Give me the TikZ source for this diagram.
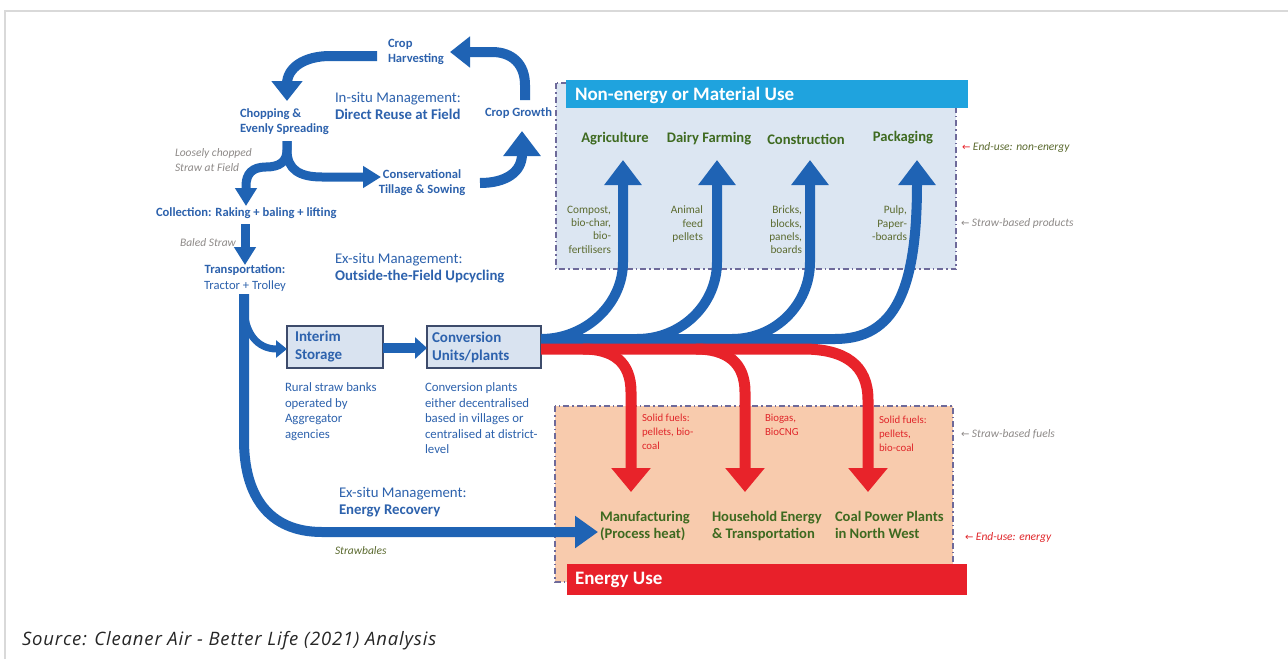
\documentclass[tikz,border=0pt]{standalone}
\usepackage{fontspec}
\setmainfont{Carlito}
\newfontfamily\srcfont{Open Sans}[LetterSpace=4.5]
\newfontfamily\symfont{DejaVu Sans}
\usetikzlibrary{arrows.meta}

\definecolor{flowblue}{HTML}{1F63B4}
\definecolor{flowred}{HTML}{E8232A}
\definecolor{txtblue}{HTML}{2D62AD}
\definecolor{txtgreen}{HTML}{3E6A20}
\definecolor{prodgreen}{HTML}{5C6B30}
\definecolor{notegray}{HTML}{8E8A88}
\definecolor{matfill}{HTML}{DCE6F2}
\definecolor{enfill}{HTML}{F8CBAD}
\definecolor{matbar}{HTML}{1FA3DE}
\definecolor{enbar}{HTML}{E8202A}
\definecolor{dashcol}{HTML}{6E6A9A}
\definecolor{boxedge}{HTML}{3D4B6B}
\definecolor{boxfill}{HTML}{D9E3F0}
\definecolor{framegray}{HTML}{D9D9D9}
\definecolor{fuelred}{HTML}{E0262A}

\newcommand{\fsz}[2]{\fontsize{#1}{#2}\selectfont}

\tikzset{
  every node/.style={inner sep=0pt, outer sep=0pt},
  lbl/.style={text=txtblue, font=\fsz{12.6}{15}\bfseries, align=left},
  mgmt/.style={text=txtblue, font=\fsz{14.8}{17}, align=left},
  note/.style={text=notegray, font=\fsz{11.5}{15}\itshape, align=left},
  desc/.style={text=txtblue, font=\fsz{12.8}{15.5}, align=left},
  enduse/.style={text=txtgreen, font=\fsz{14.6}{17.5}\bfseries, align=left},
  product/.style={text=prodgreen, font=\fsz{11.3}{13.3}, align=right},
  fuel/.style={text=fuelred, font=\fsz{10.8}{14}, align=left},
  banner/.style={text=white, font=\fsz{19}{22}\bfseries},
  sidenote/.style={anchor=west, font=\fsz{11.5}{13}\itshape},
  procbox/.style={draw=boxedge, line width=1.3pt, fill=boxfill, text=txtblue,
    font=\fsz{15}{18}\bfseries, align=left, anchor=north west},
  usearea/.style={draw=dashcol, line width=1.2pt,
    dash pattern=on 6pt off 3pt on 1.5pt off 3pt},
  bluebig/.style={draw=flowblue, line width=10pt, -{Triangle[width=36pt,length=25pt]}},
  bluemid/.style={draw=flowblue, line width=10pt, -{Triangle[width=30pt,length=20pt]}},
  bluesmall/.style={draw=flowblue, line width=9pt, -{Triangle[width=21pt,length=18pt]}},
  redbig/.style={draw=flowred, line width=11pt, -{Triangle[width=38pt,length=24pt]}},
}

\begin{document}
\begin{tikzpicture}[x=1pt,y=-1pt]
\useasboundingbox (0,0) rectangle (1288,659);
\fill[white] (0,0) rectangle (1288,659);

% page frame
\draw[framegray, line width=2pt] (4.5,659) -- (4.5,10.5) -- (1288,10.5);

% use areas
\draw[usearea, fill=matfill] (556,83) rectangle (956,269);
\fill[matbar] (566,80) rectangle (968,108);
\node[banner, anchor=west] (matuse) at (575,95) {Non-energy or Material Use};

\draw[usearea, fill=enfill] (555,406) rectangle (953,582);
\fill[enbar] (567,564) rectangle (967,595);
\node[banner, anchor=west] (enuse) at (575,580) {Energy Use};

% in-situ cycle
\node[lbl, anchor=north west] (harv) at (388,39) {Crop\\Harvesting};
\node[lbl, anchor=north west] (chop) at (240,109) {Chopping \&\\Evenly Spreading};
\node[mgmt, anchor=north west] (insitu) at (335,92) {In-situ Management:\\\textbf{Direct Reuse at Field}};
\node[lbl, anchor=west] (growth) at (485,113) {Crop Growth};
\node[lbl, anchor=center, align=center] (tillage) at (422,183) {Conservational\\Tillage \& Sowing};
\node[note, anchor=north west] (loose) at (175,149) {Loosely chopped\\Straw at Field};

\coordinate (growthtop) at (525,100);
\coordinate (harvin) at (450,52);
\draw[bluemid] (growthtop) -- (525,85) .. controls (525,64) and (512,52) .. (492,52) -- (harvin);

\coordinate (harvout) at (377,56);
\coordinate (chopin) at (287,101);
\draw[bluemid] (harvout) -- (330,56) .. controls (304,56) and (287,68) .. (287,84) -- (chopin);

\coordinate (chopout) at (287,141);
\coordinate (tillin) at (381,177);
\coordinate (collin) at (246,206);
\draw[bluesmall] (chopout) -- (287,150) .. controls (287,170) and (300,177) .. (322,177) -- (tillin);
\draw[bluesmall] (chopout) -- (287,150) .. controls (287,162) and (279,167) .. (266,167)
  .. controls (252,167) and (246,174) .. (246,186) -- (collin);

\coordinate (tillout) at (480,183);
\coordinate (growthin) at (522,131);
\draw[bluebig] (tillout) .. controls (506,183) and (522,172) .. (522,154) -- (growthin);

% ex-situ chain
\node[lbl, anchor=west] (collect) at (156,213) {Collection: Raking + baling + lifting};
\node[note, anchor=west] (baled) at (180,243) {Baled Straw};
\node[lbl, anchor=center, align=center, font=\fsz{12.6}{16}] (transp) at (245,278) {\textbf{Transportation:}\\Tractor + Trolley};
\node[mgmt, anchor=north west] (exsitu) at (335,253) {Ex-situ Management:\\\textbf{Outside-the-Field Upcycling}};

\coordinate (collout) at (245,224);
\coordinate (transpin) at (245,265);
\draw[bluesmall] (collout) -- (transpin);

\node[procbox, minimum width=95pt, minimum height=42pt, text width=80pt, inner xsep=8pt] (interim) at (287,326) {Interim\\Storage};
\node[procbox, minimum width=114pt, minimum height=42pt, text width=104pt, inner xsep=5pt] (conv) at (427,326) {Conversion\\Units/plants};

\node[desc, anchor=north west] (banks) at (285,383) {Rural straw banks\\operated by\\Aggregator\\agencies};
\node[desc, anchor=north west] (plants) at (425,383) {Conversion plants\\either decentralised\\based in villages or\\centralised at district-\\level};

\draw[draw=flowblue, line width=10pt, -{Triangle[width=21pt,length=12pt]}] (interim.east |- 0,348) -- (conv.west |- 0,348);

\coordinate (transpout) at (244,294);
\coordinate (manufin) at (598,532);
\draw[draw=flowblue, line width=7pt, -{Triangle[width=17pt,length=11pt]}] (244,305) .. controls (244,334) and (258,349) .. (interim.west |- 0,349);
\draw[draw=flowblue, line width=10pt, -{Triangle[width=31pt,length=23pt]}] (transpout) -- (244,440) .. controls (244,495) and (268,532) .. (322,532) -- (manufin);

\node[mgmt, anchor=north west] (exsitu2) at (339,487) {Ex-situ Management:\\\textbf{Energy Recovery}};
\node[note, anchor=west, text=prodgreen] (strawbales) at (335,551) {Strawbales};

% non-energy end uses
\node[enduse, anchor=center] (agri) at (615,139) {Agriculture};
\node[enduse, anchor=center] (dairy) at (709,139) {Dairy Farming};
\node[enduse, anchor=center] (constr) at (806,139) {Construction};
\node[enduse, anchor=center] (pack) at (903,138) {Packaging};

\node[product, anchor=north east] (pagri) at (611,206) {Compost,\\bio-char,\\bio-\\fertilisers};
\node[product, anchor=north east] (pdairy) at (703,206) {Animal\\feed\\pellets};
\node[product, anchor=north east] (pconstr) at (802,206) {Bricks,\\blocks,\\panels,\\boards};
\node[product, anchor=north east] (ppack) at (907,206) {Pulp,\\Paper-\\-boards};

\coordinate (convblue) at (541,339);
\coordinate (convred) at (541,349);
\coordinate (agriin) at (623,160);
\coordinate (dairyin) at (717,160);
\coordinate (constrin) at (810,160);
\coordinate (packin) at (917,160);
\draw[bluebig] (convblue) .. controls (586,339) and (623,304) .. (623,262) -- (agriin);
\draw[bluebig] (637,339) .. controls (682,339) and (717,304) .. (717,262) -- (dairyin);
\draw[bluebig] (732,339) .. controls (776,339) and (810,304) .. (810,262) -- (constrin);
\draw[bluebig] (convblue) -- (835,339) .. controls (895,339) and (917,290) .. (packin);

% energy end uses
\node[fuel, anchor=north west] (fuel1) at (642,414) {Solid fuels:\\pellets, bio-\\coal};
\node[fuel, anchor=north west] (fuel2) at (765,414) {Biogas,\\BioCNG};
\node[fuel, anchor=north west] (fuel3) at (879,416) {Solid fuels:\\pellets,\\bio-coal};

\node[enduse, anchor=north west] (manuf) at (600,511) {Manufacturing\\(Process heat)};
\node[enduse, anchor=north west] (house) at (712,511) {Household Energy\\\& Transportation};
\node[enduse, anchor=north west] (coal) at (835,511) {Coal Power Plants\\in North West};

\coordinate (manufred) at (631,492);
\coordinate (housered) at (745,492);
\coordinate (coalred) at (868,492);
\draw[redbig] (convred) -- (803,349) .. controls (845,349) and (868,365) .. (868,400) -- (coalred);
\draw[redbig] (583,349) .. controls (613,349) and (631,362) .. (631,392) -- (manufred);
\draw[redbig] (696,349) .. controls (726,349) and (745,362) .. (745,392) -- (housered);

% side annotations
\node[sidenote, text=prodgreen] (nonen) at (962,147) {{\color{flowred}\symfont\fsz{10}{13}\upshape ←} End-use: non-energy};
\node[sidenote, text=notegray] (sprod) at (961,223) {{\symfont\fsz{10}{13}\upshape ←} Straw-based products};
\node[sidenote, text=notegray] (sfuel) at (961,434) {{\symfont\fsz{10}{13}\upshape ←} Straw-based fuels};
\node[sidenote, text=fuelred] (eener) at (965,537) {{\symfont\fsz{10}{13}\upshape ←} End-use: energy};

% source line
\node[anchor=west, font=\srcfont\fsz{18.5}{21}\itshape, text=black!85] (source) at (22,641) {Source: Cleaner Air - Better Life (2021) Analysis};
\end{tikzpicture}
\end{document}
